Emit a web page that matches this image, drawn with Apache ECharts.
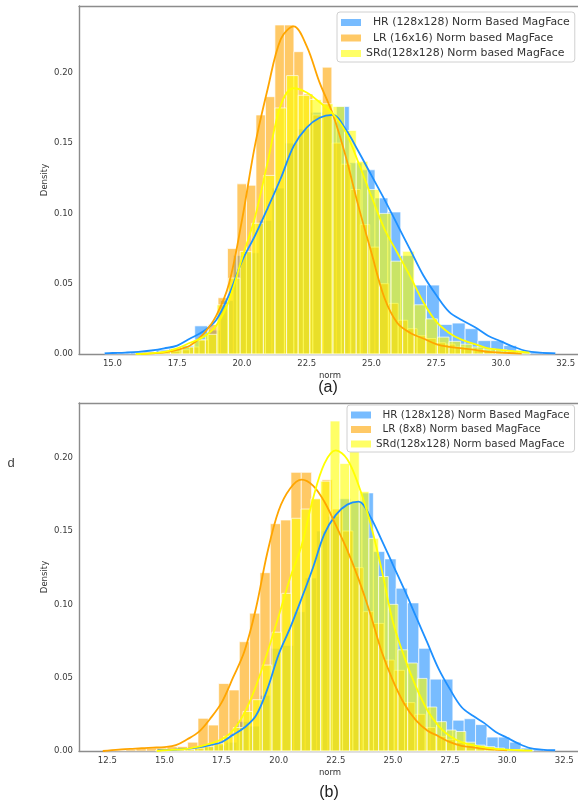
<!DOCTYPE html>
<html>
<head>
<meta charset="utf-8">
<script src="https://cdn.jsdelivr.net/npm/echarts@6/dist/echarts.min.js"></script>
<style>
html, body { margin: 0; padding: 0; background: #fff; }
#main { width: 578px; height: 805px; }
</style>
</head>
<body>
<div id="main"></div>
<script>
// ---------- data ----------
var xTicksA = [15.0, 17.5, 20.0, 22.5, 25.0, 27.5, 30.0, 32.5];
var xTicksB = [12.5, 15.0, 17.5, 20.0, 22.5, 25.0, 27.5, 30.0, 32.5];
var yTicks = [0, 0.05, 0.10, 0.15, 0.20];

var nameHR = '  HR (128x128) Norm Based MagFace';
var nameLR16 = '  LR (16x16) Norm based MagFace';
var nameLR8 = '  LR (8x8) Norm based MagFace';
var nameSR = 'SRd(128x128) Norm based MagFace';

// HR histogram (same data in both panels): first bin edge, bin width, densities
var hrStart = 14.70, hrWidth = 0.497;
var hrHist = [0.001, 0.0005, 0.001, 0.0015, 0.003, 0.004, 0.006, 0.020, 0.017, 0.038,
  0.070, 0.072, 0.095, 0.118, 0.150, 0.160, 0.172, 0.170, 0.176, 0.136,
  0.131, 0.111, 0.101, 0.070, 0.049, 0.049, 0.021, 0.022, 0.018, 0.0095,
  0.0095, 0.006, 0.002, 0.001, 0.001];
var hrKde = [[14.7, 0.0005], [15, 0.0007], [15.5, 0.001], [16, 0.0015], [16.5, 0.0025], [17, 0.004],
  [17.5, 0.006], [18, 0.011], [18.5, 0.016], [19, 0.024], [19.5, 0.042], [20, 0.066], [20.5, 0.084],
  [21, 0.104], [21.5, 0.125], [22, 0.148], [22.5, 0.161], [23, 0.168], [23.5, 0.170], [24, 0.160],
  [24.5, 0.144], [25, 0.127], [25.5, 0.110], [26, 0.092], [26.5, 0.074], [27, 0.056], [27.5, 0.042],
  [28, 0.030], [28.5, 0.024], [29, 0.019], [29.5, 0.013], [30, 0.009], [30.5, 0.005], [31, 0.002],
  [31.5, 0.001], [32.1, 0.0005]];

// (a) LR 16x16
var lrAStart = 16.15, lrAWidth = 0.366;
var lrAHist = [0.001, 0.0005, 0.001, 0.002, 0.003, 0.005, 0.010, 0.021, 0.040, 0.075,
  0.121, 0.120, 0.170, 0.183, 0.234, 0.234, 0.215, 0.185, 0.170, 0.204,
  0.150, 0.135, 0.117, 0.092, 0.076, 0.050, 0.036, 0.024, 0.018, 0.013,
  0.011, 0.008, 0.007, 0.005, 0.004, 0.003, 0.002, 0.0015, 0.001, 0.0005];
var lrAKde = [[16.1, 0], [16.5, 0.0005], [17, 0.0012], [17.5, 0.003], [18, 0.006], [18.5, 0.014],
  [19, 0.027], [19.5, 0.050], [20, 0.095], [20.5, 0.148], [21, 0.189], [21.5, 0.224], [22, 0.233],
  [22.5, 0.219], [23, 0.193], [23.5, 0.171], [24, 0.141], [24.5, 0.105], [25, 0.072], [25.5, 0.040],
  [26, 0.022], [26.5, 0.015], [27, 0.011], [27.5, 0.007], [28, 0.005], [28.5, 0.004], [29, 0.003],
  [29.5, 0.0015], [30, 0.001], [30.8, 0.0003]];

// (a) SRd
var srAStart = 15.90, srAWidth = 0.448;
var srAHist = [0.0005, 0.001, 0.002, 0.004, 0.005, 0.010, 0.014, 0.035, 0.054, 0.073,
  0.093, 0.127, 0.175, 0.198, 0.184, 0.181, 0.178, 0.176, 0.159, 0.137,
  0.117, 0.100, 0.066, 0.073, 0.035, 0.025, 0.012, 0.009, 0.007, 0.005,
  0.0035, 0.003, 0.002, 0.001];
var srAKde = [[15.9, 0], [16.5, 0.0005], [17, 0.0015], [17.5, 0.004], [18, 0.008], [18.5, 0.012],
  [19, 0.020], [19.5, 0.038], [20, 0.068], [20.5, 0.097], [21, 0.137], [21.5, 0.177], [22, 0.189],
  [22.5, 0.186], [23, 0.179], [23.5, 0.171], [24, 0.158], [24.5, 0.136], [25, 0.112], [25.5, 0.089],
  [26, 0.072], [26.5, 0.055], [27, 0.037], [27.5, 0.023], [28, 0.015], [28.5, 0.010], [29, 0.007],
  [29.5, 0.004], [30, 0.003], [30.5, 0.002], [31.1, 0.001]];

// (b) LR 8x8
var lrBStart = 12.40, lrBWidth = 0.452;
var lrBHist = [0.0005, 0.0005, 0.001, 0.002, 0.002, 0.002, 0.003, 0.003, 0.006, 0.0223,
  0.0177, 0.046, 0.0416, 0.0745, 0.094, 0.1216, 0.155, 0.1575, 0.190, 0.190,
  0.172, 0.185, 0.165, 0.150, 0.125, 0.095, 0.087, 0.062, 0.055, 0.033,
  0.025, 0.016, 0.010, 0.008, 0.006, 0.004, 0.003, 0.002, 0.001];
var lrBKde = [[12.3, 0], [13, 0.001], [13.5, 0.0014], [14, 0.002], [14.5, 0.0023], [15, 0.0027],
  [15.5, 0.004], [16, 0.008], [16.5, 0.013], [17, 0.022], [17.5, 0.033], [18, 0.050], [18.5, 0.068],
  [19, 0.097], [19.5, 0.135], [20, 0.164], [20.5, 0.179], [21, 0.185], [21.5, 0.181], [22, 0.170],
  [22.5, 0.154], [23, 0.137], [23.5, 0.117], [24, 0.094], [24.5, 0.068], [25, 0.048], [25.5, 0.032],
  [26, 0.021], [26.5, 0.014], [27, 0.010], [27.5, 0.006], [28, 0.0035], [28.5, 0.0025], [29, 0.0015],
  [29.5, 0.001], [30, 0.0005]];

// (b) SRd
var srBStart = 14.62, srBWidth = 0.424;
var srBHist = [0.0005, 0.0005, 0.001, 0.001, 0.002, 0.003, 0.005, 0.010, 0.016, 0.027,
  0.035, 0.0586, 0.081, 0.1075, 0.1587, 0.165, 0.172, 0.184, 0.225, 0.196,
  0.205, 0.177, 0.145, 0.119, 0.100, 0.069, 0.060, 0.0495, 0.030, 0.020,
  0.0143, 0.0133, 0.006, 0.004, 0.003, 0.002, 0.001, 0.001, 0.0005];
var srBKde = [[14.66, 0], [15, 0.0005], [15.5, 0.001], [16, 0.0015], [16.5, 0.003], [17, 0.005],
  [17.5, 0.008], [18, 0.014], [18.5, 0.026], [19, 0.044], [19.5, 0.067], [20, 0.092], [20.5, 0.118],
  [21, 0.140], [21.5, 0.172], [22, 0.196], [22.5, 0.205], [23, 0.199], [23.5, 0.181], [24, 0.156],
  [24.5, 0.124], [25, 0.088], [25.5, 0.064], [26, 0.044], [26.5, 0.028], [27, 0.017], [27.5, 0.010],
  [28, 0.006], [28.5, 0.004], [29, 0.0025], [29.5, 0.0015], [30, 0.001], [30.5, 0.0005], [31.1, 0.0003]];

// ---------- styling ----------
var BLUE = '#1e90ff', ORANGE = '#ffa500', YELLOW = '#ffff00';
var BLUE_F = 'rgba(30,144,255,0.6)', ORANGE_F = 'rgba(255,165,0,0.6)', YELLOW_F = 'rgba(255,255,0,0.6)';
var FONT = 'DejaVu Sans';
var SPINE = '#8c8c8c';

function histSeries(name, start, width, heights, fill, idx) {
  var data = [];
  for (var i = 0; i < heights.length; i++) {
    data.push([start + i * width, start + (i + 1) * width, heights[i]]);
  }
  return {
    type: 'custom',
    name: name,
    xAxisIndex: idx,
    yAxisIndex: idx,
    itemStyle: { color: fill },
    encode: { x: [0, 1], y: 2 },
    data: data,
    z: 1,
    renderItem: function(params, api) {
      var p0 = api.coord([api.value(0), api.value(2)]);
      var p1 = api.coord([api.value(1), 0]);
      return {
        type: 'rect',
        shape: { x: p0[0], y: p0[1], width: p1[0] - p0[0], height: p1[1] - p0[1] },
        style: { fill: fill, stroke: 'rgba(255,255,255,0.85)', lineWidth: 0.8 }
      };
    }
  };
}

function kdeSeries(data, color, idx) {
  return {
    type: 'line',
    xAxisIndex: idx,
    yAxisIndex: idx,
    data: data,
    smooth: 0.35,
    symbol: 'none',
    z: 3,
    lineStyle: { color: color, width: 1.8 },
    silent: true
  };
}

function xAxisFor(idx, min, max, ticks, gap) {
  return {
    type: 'value', gridIndex: idx, min: min, max: max,
    name: 'norm', nameLocation: 'middle', nameGap: gap, nameMoveOverlap: false,
    nameTextStyle: { fontFamily: FONT, fontSize: 8.5, color: '#333' },
    axisLine: { show: true, onZero: false, lineStyle: { color: SPINE, width: 1.4 } },
    axisTick: { show: false },
    splitLine: { show: false },
    axisLabel: {
      customValues: ticks, margin: 5, fontFamily: FONT, fontSize: 8.5, color: '#3a3a3a',
      hideOverlap: false,
      formatter: function(v) { return v.toFixed(1); }
    }
  };
}

// top spine only
function topSpine(idx, min, max) {
  return {
    type: 'value', gridIndex: idx, min: min, max: max, position: 'top',
    axisLine: { show: true, onZero: false, lineStyle: { color: SPINE, width: 1.4 } },
    axisTick: { show: false }, axisLabel: { show: false }, splitLine: { show: false }
  };
}

function yAxisFor(idx, max) {
  return {
    type: 'value', gridIndex: idx, min: 0, max: max,
    name: 'Density', nameLocation: 'middle', nameGap: 30, nameRotate: 90, nameMoveOverlap: false,
    nameTextStyle: { fontFamily: FONT, fontSize: 8.5, color: '#333' },
    axisLine: { show: true, lineStyle: { color: SPINE, width: 1.4 } },
    axisTick: { show: false },
    splitLine: { show: false },
    axisLabel: {
      customValues: yTicks, margin: 6, fontFamily: FONT, fontSize: 8.5, color: '#3a3a3a',
      formatter: function(v) { return v.toFixed(2); }
    }
  };
}

function legendFor(left, top, names, fontSize) {
  return {
    orient: 'vertical', left: left, top: top,
    data: names,
    icon: 'rect', itemWidth: 20, itemHeight: 7, itemGap: 4.5,
    padding: [5, 5, 3, 4],
    backgroundColor: '#fff', borderColor: '#d0d0d0', borderWidth: 1, borderRadius: 3,
    textStyle: { fontFamily: FONT, fontSize: fontSize, color: '#333' },
    selectedMode: false
  };
}

var chart = echarts.init(document.getElementById('main'), null, { renderer: 'canvas' });

chart.setOption({
  animation: false,
  backgroundColor: '#fff',
  grid: [
    { left: 79, width: 502, top: 6, height: 348, outerBoundsMode: 'none' },
    { left: 79, width: 502, top: 403, height: 348, outerBoundsMode: 'none' }
  ],
  xAxis: [
    xAxisFor(0, 13.71, 33.09, xTicksA, 17.5), xAxisFor(1, 11.26, 33.23, xTicksB, 17),
    topSpine(0, 13.71, 33.09), topSpine(1, 11.26, 33.23)
  ],
  yAxis: [yAxisFor(0, 0.2475), yAxisFor(1, 0.2373)],
  legend: [
    legendFor(337, 12, [nameHR, nameLR16, nameSR], 10.9),
    legendFor(347, 405, [nameHR, nameLR8, nameSR], 10.35)
  ],
  graphic: [
    { type: 'text', x: 328, y: 388, style: { text: '(a)', fill: '#222', font: '16px "Liberation Sans"', align: 'center', verticalAlign: 'middle' } },
    { type: 'text', x: 329, y: 793, style: { text: '(b)', fill: '#222', font: '16px "Liberation Sans"', align: 'center', verticalAlign: 'middle' } },
    { type: 'text', x: 11, y: 463, style: { text: 'd', fill: '#444', font: '13px "Liberation Sans"', align: 'center', verticalAlign: 'middle' } }
  ],
  series: [
    histSeries(nameHR, hrStart, hrWidth, hrHist, BLUE_F, 0),
    histSeries(nameLR16, lrAStart, lrAWidth, lrAHist, ORANGE_F, 0),
    histSeries(nameSR, srAStart, srAWidth, srAHist, YELLOW_F, 0),
    kdeSeries(hrKde, BLUE, 0),
    kdeSeries(lrAKde, ORANGE, 0),
    kdeSeries(srAKde, YELLOW, 0),
    histSeries(nameHR, hrStart, hrWidth, hrHist, BLUE_F, 1),
    histSeries(nameLR8, lrBStart, lrBWidth, lrBHist, ORANGE_F, 1),
    histSeries(nameSR, srBStart, srBWidth, srBHist, YELLOW_F, 1),
    kdeSeries(hrKde, BLUE, 1),
    kdeSeries(lrBKde, ORANGE, 1),
    kdeSeries(srBKde, YELLOW, 1)
  ]
});
</script>
</body>
</html>
